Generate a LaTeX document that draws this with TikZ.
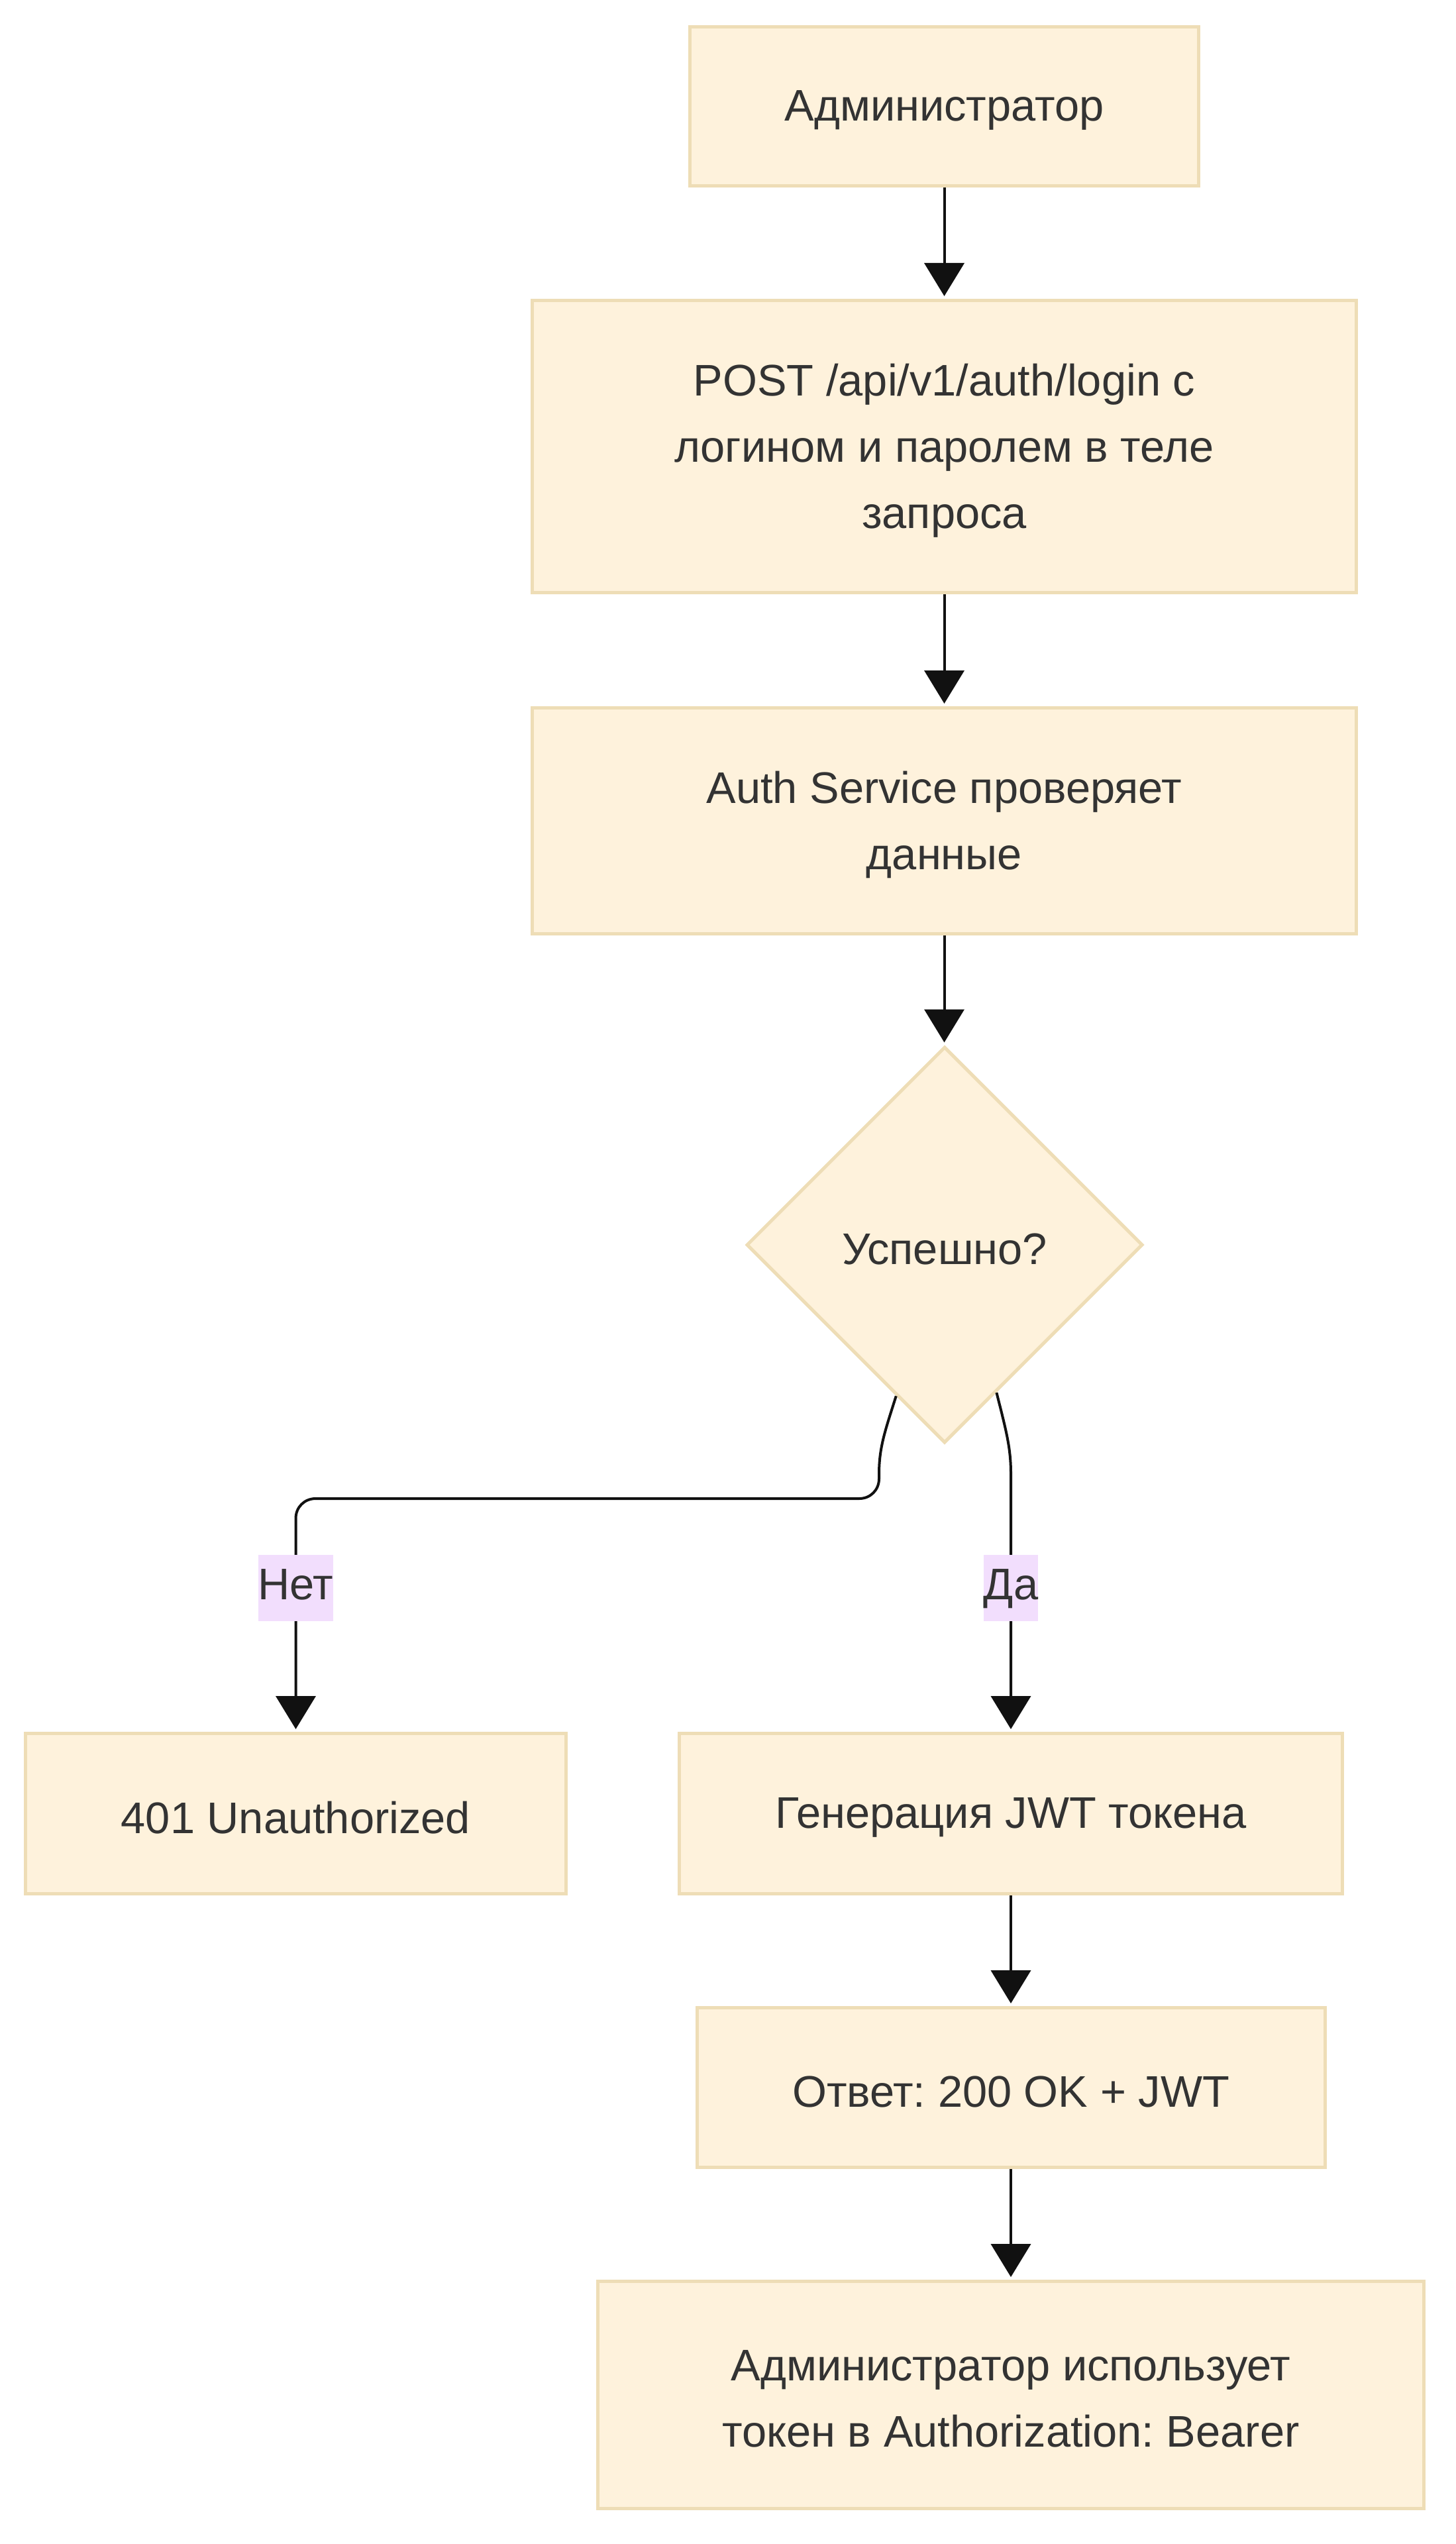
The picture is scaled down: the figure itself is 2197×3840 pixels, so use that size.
\documentclass[tikz,border=0pt]{standalone}
\usepackage{fontspec}
\setmainfont{Liberation Sans}
\frenchspacing
\usetikzlibrary{shapes.geometric,arrows.meta,calc}
\definecolor{boxfill}{HTML}{FEF2DC}
\definecolor{boxline}{HTML}{EEDDB6}
\definecolor{txt}{HTML}{333333}
\definecolor{lblbg}{HTML}{F2DEFD}
\definecolor{edgec}{HTML}{111111}
\begin{document}
\begin{tikzpicture}[x=0.25pt,y=-0.25pt,
  every node/.style={font=\fontsize{16.7}{25}\selectfont,text=txt},
  txtlab/.style={align=center,inner sep=0pt,yshift=-1.5pt},
  stepbox/.style={draw=boxline,fill=boxfill,line width=1.25pt,rectangle,inner sep=0pt},
  decbox/.style={draw=boxline,fill=boxfill,line width=1.25pt,diamond,aspect=1,inner sep=0pt,minimum width=149.5pt,minimum height=149.5pt},
  edge/.style={draw=edgec,line width=1pt,-{Triangle[length=12.5pt,width=15pt]},shorten >=1pt},
  lbl/.style={fill=lblbg,inner sep=0pt,minimum height=25pt,text height=12.5pt,text depth=4pt}]
\useasboundingbox (0,0) rectangle (2197,3840);
\fill[white] (0,0) rectangle (2197,3840);

\node[stepbox,minimum width=192pt,minimum height=60pt,label={[txtlab]center:{Администратор}}] (admin) at (1425.5,160.5) {};
\node[stepbox,minimum width=311pt,minimum height=110.25pt,label={[txtlab]center:{POST /api/v1/auth/login с\\логином и паролем в теле\\запроса}}] (post) at (1425.5,674) {};
\node[stepbox,minimum width=311pt,minimum height=85.25pt,label={[txtlab]center:{Auth Service проверяет\\данные}}] (auth) at (1425.5,1239) {};
\node[decbox,label={[txtlab]center:{Успешно?}}] (dec) at (1426,1879) {};
\node[stepbox,minimum width=204pt,minimum height=60.5pt,label={[txtlab]center:{401 Unauthorized}}] (e401) at (446.5,2737.5) {};
\node[stepbox,minimum width=250.25pt,minimum height=60.5pt,label={[txtlab]center:{Генерация JWT токена}}] (jwt) at (1526,2737.5) {};
\node[stepbox,minimum width=237pt,minimum height=60.25pt,label={[txtlab]center:{Ответ: 200 OK + JWT}}] (resp) at (1526,3151) {};
\node[stepbox,minimum width=311.75pt,minimum height=85.75pt,label={[txtlab]center:{Администратор использует\\токен в Authorization: Bearer}}] (use) at (1526,3615) {};

\draw[edge] (admin.south) -- (post.north);
\draw[edge] (post.south) -- (auth.north);
\draw[edge] (auth.south) -- (auth.south |- dec.north);

\coordinate (n0) at ($(dec.south)!0.243!(dec.west)$);
\coordinate (y0) at ($(dec.south)!0.26!(dec.east)$);
\coordinate (nc) at (e401.north |- 0,2262);

\draw[edge] (n0) .. controls (1336,2160) and (1327,2185) .. (1327,2225)
  -- (1327,2232) .. controls (1327,2249) and (1314,2262) .. (1297,2262)
  -- ($(nc)+(30,0)$) .. controls ($(nc)+(13,0)$) and ($(nc)+(0,13)$) .. ($(nc)+(0,30)$)
  -- (e401.north);
\draw[edge] (y0) .. controls (1519,2160) and (1526,2185) .. (jwt.north |- 0,2225) -- (jwt.north);

\node[lbl] (lno) at (e401.north |- 0,2397) {Нет};
\node[lbl] (lyes) at (jwt.north |- 0,2397) {Да};

\draw[edge] (jwt.south) -- (resp.north);
\draw[edge] (resp.south) -- (use.north);
\end{tikzpicture}
\end{document}
